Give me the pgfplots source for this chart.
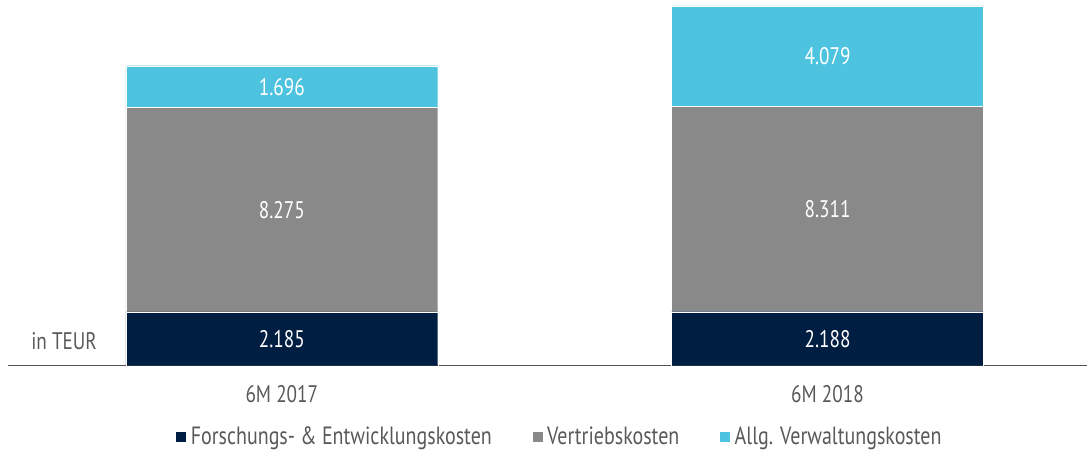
\documentclass[border=0pt]{standalone}
\usepackage{pgfplots}
\pgfplotsset{compat=1.18}
\usepackage{fontspec}
\setmainfont{PT Sans}[FakeStretch=0.8]
\definecolor{navyb}{RGB}{0,30,66}
\definecolor{grayb}{RGB}{137,137,137}
\definecolor{cyanb}{RGB}{78,195,223}
\definecolor{txt}{RGB}{89,89,89}
\begin{document}
\begin{tikzpicture}
\path (0,0) rectangle (1088pt,450pt);
\begin{axis}[
 at={(8pt,84pt)}, anchor=south west,
 scale only axis, width=1080pt, height=366pt,
 xmin=-0.5018, xmax=1.476, ymin=0, ymax=14818,
 ybar stacked, bar width=0.5714,
 axis x line*=bottom, axis y line=none,
 axis line style={draw=black!68, line width=1.5pt},
 xtick={0,1}, xticklabels={6M 2017,6M 2018},
 major tick length=0pt,
 xticklabel style={font=\fontsize{24}{28}\selectfont, text=txt, yshift=-16pt},
 clip=false,
 nodes near coords={\pgfmathprintnumber[1000 sep={.},assume math mode=true]{\pgfplotspointmeta}},
 point meta=rawy,
 every node near coord/.append style={anchor=center, text=white, font=\fontsize{24}{28}\selectfont},
 legend columns=3,
 legend style={at={(axis description cs:0.511,-0.194)}, anchor=center, draw=none, fill=none,
   font=\fontsize{25}{29}\selectfont, text=txt,
   /tikz/every odd column/.append style={column sep=2pt},
   /tikz/every even column/.append style={column sep=38pt}},
 legend image code/.code={\fill[#1] (0pt,-5.5pt) rectangle (11pt,5.5pt);},
]
\addplot[fill=navyb, draw=white, line width=0.4pt] coordinates {(0,2185) (1,2188)};
\addplot[fill=grayb, draw=white, line width=0.4pt] coordinates {(0,8275) (1,8311)};
\addplot[fill=cyanb, draw=white, line width=0.4pt] coordinates {(0,1696) (1,4079)};
\legend{Forschungs- \& Entwicklungskosten, Vertriebskosten, Allg. Verwaltungskosten}
\node[text=txt, font=\fontsize{24}{28}\selectfont] at (rel axis cs:0.052,0.068) {in TEUR};
\end{axis}
\end{tikzpicture}
\end{document}
